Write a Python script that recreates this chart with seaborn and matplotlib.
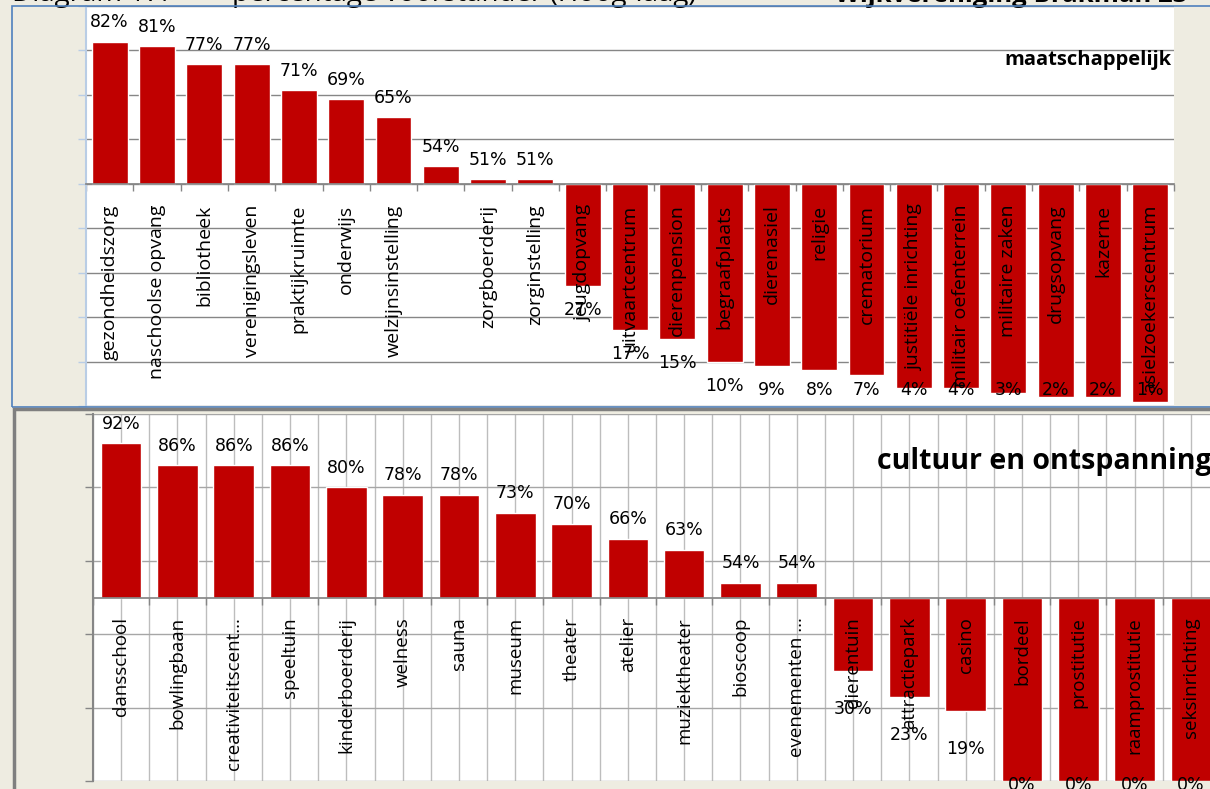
"""
Draagvlak per voorziening: percentage voorstanders, twee panelen
- boven: maatschappelijk
- onder: cultuur en ontspanning
Balken staan op de 50%-lijn (boven = meerderheid voor, onder = minderheid).
"""

import numpy as np
import pandas as pd
import matplotlib
matplotlib.use("Agg")
import matplotlib.pyplot as plt
from matplotlib.patches import Rectangle
import seaborn as sns

# ── data ─────────────────────────────────────────────────────────────────────
maatsch_namen = [
    "gezondheidszorg", "naschoolse opvang", "bibliotheek", "verenigingsleven",
    "praktijkruimte", "onderwijs", "welzijnsinstelling", "", "zorgboerderij",
    "zorginstelling", "jeugdopvang", "uitvaartcentrum", "dierenpension",
    "begraafplaats", "dierenasiel", "religie", "crematorium",
    "justitiële inrichting", "militair oefenterrein", "militaire zaken",
    "drugsopvang", "kazerne", "asielzoekerscentrum",
]
maatsch_pct = [82, 81, 77, 77, 71, 69, 65, 54, 51, 51, 27, 17, 15, 10, 9, 8, 7, 4, 4, 3, 2, 2, 1]

cultuur_namen = [
    "dansschool", "bowlingbaan", "creativiteitscent...", "speeltuin",
    "kinderboerderij", "welness", "sauna", "museum", "theater", "atelier",
    "muziektheater", "bioscoop", "evenementen ...", "dierentuin",
    "attractiepark", "casino", "bordeel", "prostitutie", "raamprostitutie",
    "seksinrichting",
]
cultuur_pct = [92, 86, 86, 86, 80, 78, 78, 73, 70, 66, 63, 54, 54, 30, 23, 19, 0, 0, 0, 0]

# ── stijl ────────────────────────────────────────────────────────────────────
W, H = 1210, 789
ROOD = "#C00000"
BEIGE = "#EEECE1"
LICHTBLAUW = "#B9CDE5"
BLAUW = "#4F81BD"

sns.set_theme(style="white")
plt.rcParams["font.family"] = ["Open Sans", "DejaVu Sans"]
plt.rcParams["text.color"] = "black"


def rect(l, t, r, b):
    # pixelcoördinaten (links, boven, rechts, onder) -> figuurfractie
    return [l / W, 1 - b / H, (r - l) / W, (b - t) / H]


def paneel(ax, namen, pct, breedte, ymax, stap, as_kleur, grid_kleur,
           label_pad, pos_off, neg_off, vloer, label_size, vgrid=False):
    df = pd.DataFrame({"naam": namen, "pct": pct})
    df["hoogte"] = df["pct"] - 50
    sns.barplot(data=df, x="naam", y="hoogte", order=namen, color=ROOD,
                saturation=1, width=breedte, bottom=50, errorbar=None,
                ax=ax, zorder=2)

    n = len(namen)
    ax.set_xlim(-0.5, n - 0.5)
    ax.set_ylim(0, ymax)
    ax.set_yticks(np.arange(0, ymax + 1, stap))
    ax.set_xticks(np.arange(n))
    ax.set_xticks(np.arange(n + 1) - 0.5, minor=True)
    ax.set_xticklabels([])
    ax.set_xlabel("")
    ax.set_ylabel("")
    ax.set_facecolor("white")

    for s in ["top", "right"]:
        ax.spines[s].set_visible(False)
    ax.spines["bottom"].set_position(("data", 50))
    ax.spines["bottom"].set_color("#868686")
    ax.spines["left"].set_color(as_kleur)
    ax.spines["left"].set_linewidth(1.5)

    ax.tick_params(axis="y", which="major", left=True, length=6, width=1,
                   color=as_kleur, labelleft=False)
    ax.tick_params(axis="x", which="major", bottom=False)
    ax.tick_params(axis="x", which="minor", bottom=True, length=5, width=1,
                   color="#868686")
    ax.yaxis.grid(True, color=grid_kleur, lw=1)
    if vgrid:
        ax.xaxis.grid(True, which="both", color="#BDBDBD", lw=1)
    ax.set_axisbelow(True)

    # categorienamen onder de 50%-lijn, van onder naar boven te lezen
    for i, naam in enumerate(namen):
        ax.annotate(naam, (i, 50), xytext=(0, -label_pad),
                    textcoords="offset points", rotation=90, ha="center",
                    va="top", fontsize=label_size, color="black", zorder=4)

    # percentages boven / onder de balk
    for i, v in enumerate(pct):
        y = v + pos_off if v >= 50 else max(v - neg_off, vloer)
        ax.text(i, y, f"{v}%", ha="center", va="center", family="DejaVu Sans",
                fontsize=12.5, color="black", zorder=5)


fig = plt.figure(figsize=(W / 100, H / 100), dpi=100, facecolor=BEIGE)

ax1 = fig.add_axes(rect(86, 6, 1174, 406))
ax2 = fig.add_axes(rect(93, 414, 1219, 781))

paneel(ax1, maatsch_namen, maatsch_pct, 0.76, 90, 10, LICHTBLAUW, "#868686",
       label_pad=15, pos_off=4.3, neg_off=5.4, vloer=3.6, label_size=14)
paneel(ax2, cultuur_namen, cultuur_pct, 0.72, 100, 20, "#868686", "#A6A6A6",
       label_pad=14, pos_off=5.4, neg_off=10.4, vloer=-1.2, label_size=13.5,
       vgrid=True)

# kaders van de twee grafiekvensters
fig.add_artist(Rectangle((12 / W, 1 - 407 / H), 1.1, (407 - 6) / H,
                         transform=fig.transFigure, fill=False,
                         edgecolor=BLAUW, lw=1.2, zorder=10))
fig.add_artist(Rectangle((14 / W, -0.1), 1.1, 1 - 409 / H + 0.1,
                         transform=fig.transFigure, fill=False,
                         edgecolor="#7F7F7F", lw=2.5, zorder=10))

# paneeltitels
fig.text(1172 / W, 1 - 60 / H, "maatschappelijk", ha="right", va="center",
         fontweight="bold", fontsize=14.5)
fig.text(1212 / W, 1 - 462 / H, "cultuur en ontspanning", ha="right",
         va="center", fontweight="bold", fontsize=20.5)

# kop van het document, valt grotendeels buiten beeld
yk = 1 - 1.5 / H
fig.text(12 / W, yk, "Diagram 17:", va="baseline", fontsize=20)
fig.text(232 / W, yk, "percentage voorstander (Hoog-laag)", va="baseline", fontsize=20)
fig.text(835 / W, yk, "Wijkvereniging Brakman 23", va="baseline", fontsize=18.5,
         fontweight="bold")

fig.savefig("out.png", dpi=100, facecolor=BEIGE)
